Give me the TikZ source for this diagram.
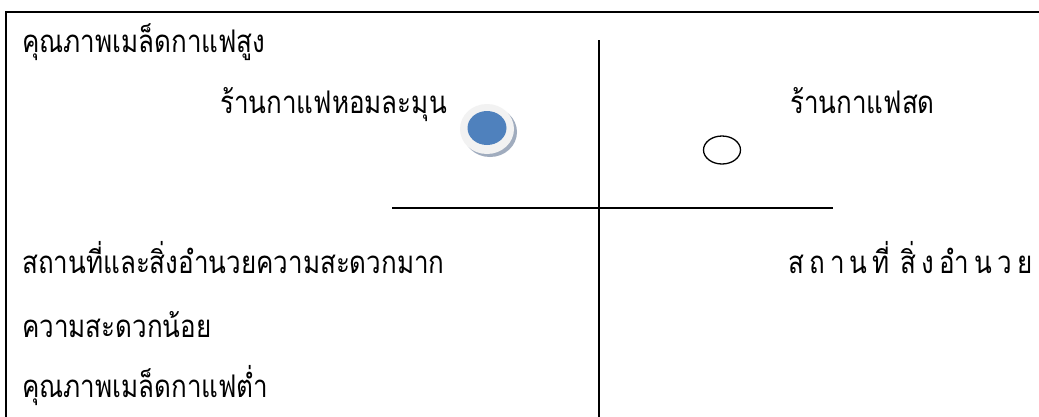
\documentclass[tikz,border=0pt]{standalone}
\usepackage{fontspec}
\usepackage{graphicx}
\usetikzlibrary{shapes.geometric}
\newfontfamily\thaifont[Script=Thai]{Loma}
\definecolor{discblue}{RGB}{79,129,189}
\definecolor{discring}{RGB}{242,242,242}
\definecolor{discshadow}{RGB}{160,172,190}
\newcommand{\lsk}{\kern5.2pt}
\newcommand{\tallt}[1]{\scalebox{1}[1.2]{#1}}
\begin{document}
\begin{tikzpicture}[x=1pt,y=-1pt,
  lbl/.style={inner sep=0pt, anchor=base west, font=\thaifont\fontsize{26}{30}\selectfont},
  frameline/.style={line width=1.8pt},
  axis/.style={line width=1.3pt}]
\useasboundingbox (0,0) rectangle (1039,416);
\fill[white] (0,0) rectangle (1039,416);
% frame
\coordinate (fbl) at (6,420);
\coordinate (ftl) at (6,12);
\coordinate (ftr) at (1045,12);
\draw[frameline] (fbl) -- (ftl) -- (ftr);
% axes
\coordinate (vtop) at (599,40);
\coordinate (vbot) at (599,420);
\coordinate (hl) at (392,208);
\coordinate (hr) at (833,208);
\draw[axis] (vtop) -- (vbot);
\draw[axis] (hl) -- (hr);
% labels
\node[lbl] (t1) at (22,52) {\tallt{คุณภาพเมล็ดกาแฟสูง}};
\node[lbl] (t2) at (220,113) {\tallt{ร้านกาแฟหอมละมุน}};
\node[lbl] (t3) at (790,113) {\tallt{ร้านกาแฟสด}};
\node[lbl] (t4) at (22,273) {\tallt{สถานที่และสิ่งอำนวยความสะดวกมาก}};
\node[lbl] (t5) at (788,273) {\tallt{ส\lsk ถ\lsk า\lsk น\lsk ที่\kern10ptสิ่\lsk ง\lsk อำ\lsk น\lsk ว\lsk ย}};
\node[lbl] (t6) at (22,337) {\tallt{ความสะดวกน้อย}};
\node[lbl] (t7) at (22,397) {\tallt{คุณภาพเมล็ดกาแฟต่ำ}};
% markers
\fill[discshadow] (490,132) ellipse [x radius=27, y radius=25];
\fill[discring] (487,129) ellipse [x radius=27, y radius=25];
\node[ellipse, fill=discblue, minimum width=39pt, minimum height=34pt, inner sep=0pt] (m1) at (487,128) {};
\node[ellipse, draw, line width=1.3pt, minimum width=37pt, minimum height=28pt, inner sep=0pt] (m2) at (722,150) {};
\end{tikzpicture}
\end{document}
